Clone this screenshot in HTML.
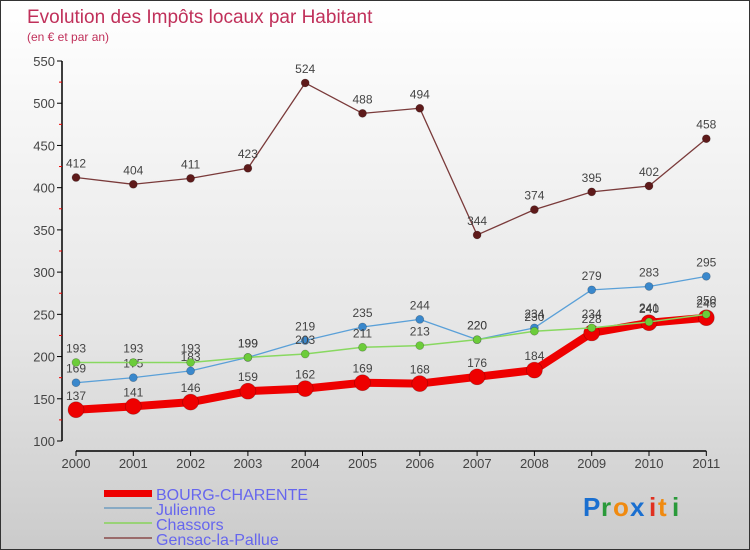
<!DOCTYPE html>
<html><head><meta charset="utf-8"><style>
body{margin:0;}
#wrap{width:750px;height:550px;position:relative;box-sizing:border-box;border:1px solid #333;background:linear-gradient(#ffffff 0%,#e6e6e6 60%,#cbcbcb 100%);font-family:"Liberation Sans",sans-serif;overflow:hidden;}
</style></head><body>
<div id="wrap">
<svg id="chart" width="750" height="550" style="position:absolute;left:0;top:0">
<text x="26" y="22" font-size="19" fill="#c0305a">Evolution des Impôts locaux par Habitant</text>
<text x="26" y="40" font-size="12" fill="#c0305a">(en € et par an)</text>
<g id="axes"></g><g id="series"></g>
<g>
<rect x="103" y="489" width="48" height="7" fill="#e00"/>
<line x1="103" y1="507" x2="151" y2="507" stroke="#88aac4" stroke-width="2"/>
<line x1="103" y1="522" x2="151" y2="522" stroke="#99d277" stroke-width="2"/>
<line x1="103" y1="537" x2="151" y2="537" stroke="#9a6b6b" stroke-width="2"/>
<text x="155" y="499" font-size="16" fill="#6666ee">BOURG-CHARENTE</text>
<text x="155" y="514" font-size="16" fill="#6666ee">Julienne</text>
<text x="155" y="529" font-size="16" fill="#6666ee">Chassors</text>
<text x="155" y="544" font-size="16" fill="#6666ee">Gensac-la-Pallue</text>
</g>
<g font-size="26" font-weight="bold">
<text x="582" y="515" fill="#1a6fd0">P</text><text x="600" y="515" fill="#2a9a3a">r</text><text x="612" y="515" fill="#f08a10">o</text><text x="629" y="515" fill="#1a6fd0">x</text><text x="648" y="515" fill="#e03020">i</text><text x="657" y="515" fill="#f08a10">t</text><text x="671" y="515" fill="#2a9a3a">i</text>
</g>
</svg>
</div>
<script>
const years=[2000,2001,2002,2003,2004,2005,2006,2007,2008,2009,2010,2011];
const bourg=[137,141,146,159,162,169,168,176,184,228,240,246];
const julienne=[169,175,183,199,219,235,244,220,234,279,283,295];
const chassors=[193,193,193,199,203,211,213,220,230,234,241,250];
const gensac=[412,404,411,423,524,488,494,344,374,395,402,458];
const yTicks=[100,150,200,250,300,350,400,450,500,550];
const NS="http://www.w3.org/2000/svg";
function xS(i){return 75+i*57.3;}
function yS(v){return 440-(v-100)*(380/450);}
function mk(tag,attrs,parent){const e=document.createElementNS(NS,tag);for(const k in attrs)e.setAttribute(k,attrs[k]);parent.appendChild(e);return e;}
const ax=document.getElementById('axes');
const yAxis=mk('line',{x1:61,y1:yS(550),x2:61,y2:440,stroke:'#000','stroke-width':1.5},ax);


const xAxis=mk('line',{x1:75,y1:450,x2:xS(11),y2:450,stroke:'#000','stroke-width':1.5},ax);


yTicks.forEach(v=>{
  mk('line',{x1:56,y1:yS(v),x2:61,y2:yS(v),stroke:'#000'},ax);
  const t=mk('text',{x:54,y:yS(v)+5,'font-size':13,fill:'#444','text-anchor':'end'},ax);
  t.textContent=v;
  
  
  if(v<550) mk('line',{x1:58,y1:yS(v+25),x2:61,y2:yS(v+25),stroke:'#e00'},ax);
});
years.forEach((y,i)=>{
  mk('line',{x1:xS(i),y1:450,x2:xS(i),y2:455,stroke:'#000'},ax);
  const t=mk('text',{x:xS(i),y:467,'font-size':13,fill:'#444','text-anchor':'middle'},ax);
  t.textContent=y;
  
  
});
const sg=document.getElementById('series');
function draw(data,name,color,w,r,dot){
  const g=mk('g',{},sg);
  
  
  mk('polyline',{points:data.map((v,i)=>xS(i)+','+yS(v)).join(' '),fill:'none',stroke:color,'stroke-width':w,'stroke-linejoin':'round'},g);
  data.forEach((v,i)=>{
    const c=mk('circle',{cx:xS(i),cy:yS(v),r:r,fill:dot,stroke:'rgba(0,0,0,0.25)','stroke-width':0.7},g);
    
    
    const t=mk('text',{x:xS(i),y:yS(v)-10,'font-size':12,fill:'#444','text-anchor':'middle'},g);
    t.textContent=v;
    
    
  });
}
draw(gensac,'gensac','#7a3a3a',1.3,4,'#5e1a1a');
draw(julienne,'julienne','#5aa0d8',1.3,4,'#3a88cc');
draw(bourg,'bourg','#ee0000',8,8,'#ee0000');
draw(chassors,'chassors','#88d860',1.5,4,'#6ccc3a');
</script>
</body></html>
